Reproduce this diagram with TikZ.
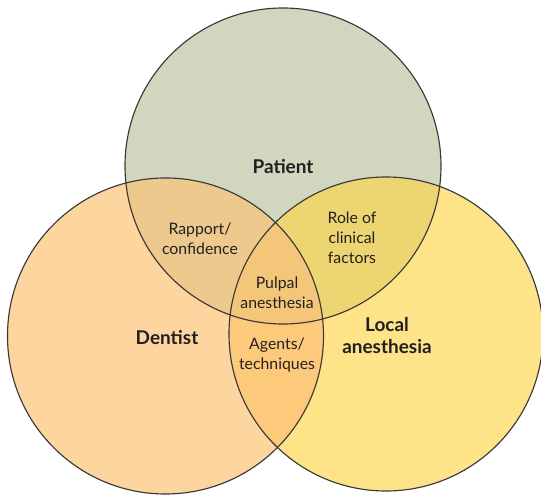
\documentclass[tikz,border=0pt]{standalone}
\usepackage{fontspec}
\setmainfont{Lato}
\definecolor{patientfill}{HTML}{D1D7BF}
\definecolor{dentistfill}{HTML}{FDD59F}
\definecolor{localfill}{HTML}{FEE388}
\definecolor{pdfill}{HTML}{EDC98D}
\definecolor{plfill}{HTML}{EDD672}
\definecolor{dlfill}{HTML}{FDCA7B}
\definecolor{allfill}{HTML}{F4C67A}
\definecolor{textcol}{HTML}{231F20}
\definecolor{rimcol}{HTML}{3A3838}
\tikzset{
  rim/.style={draw=rimcol,line width=0.65pt},
  setname/.style={font=\fontsize{10.8}{12.5}\selectfont\bfseries,text=textcol,align=center},
  overlap/.style={font=\fontsize{9}{11.4}\selectfont,text=textcol,align=center}
}
\begin{document}
\begin{tikzpicture}[x=0.02cm,y=-0.02cm]
      \useasboundingbox (0,0) rectangle (541,496);
      \coordinate (p) at (283,166);
      \coordinate (d) at (165.5,336);
      \coordinate (l) at (386,334);
      \fill[patientfill] (p) circle (158);
      \fill[dentistfill] (d) circle (158);
      \fill[localfill] (l) circle (157);
      \begin{scope}
        \clip (p) circle (158);
        \fill[pdfill] (d) circle (158);
        \fill[plfill] (l) circle (157);
      \end{scope}
      \begin{scope}
        \clip (d) circle (158);
        \fill[dlfill] (l) circle (157);
        \clip (l) circle (157);
        \fill[allfill] (p) circle (158);
      \end{scope}
      \draw[rim] (p) circle (158);
      \draw[rim] (d) circle (158);
      \draw[rim] (l) circle (157);
      \draw
        (283,167) node[setname] (patient) {Patient}
        (167,338) node[setname] (dentist) {Dentist}
        (387,336) node[setname] (local) {Local\\anesthesia}
        (200,239) node[overlap] (rapport) {Rapport/\\confidence}
        (352,238) node[overlap] (role) {Role of\\clinical\\factors}
        (277,293) node[overlap] (pulpal) {Pulpal\\anesthesia}
        (277,355) node[overlap] (agents) {Agents/\\techniques};
    \end{tikzpicture}
\end{document}
